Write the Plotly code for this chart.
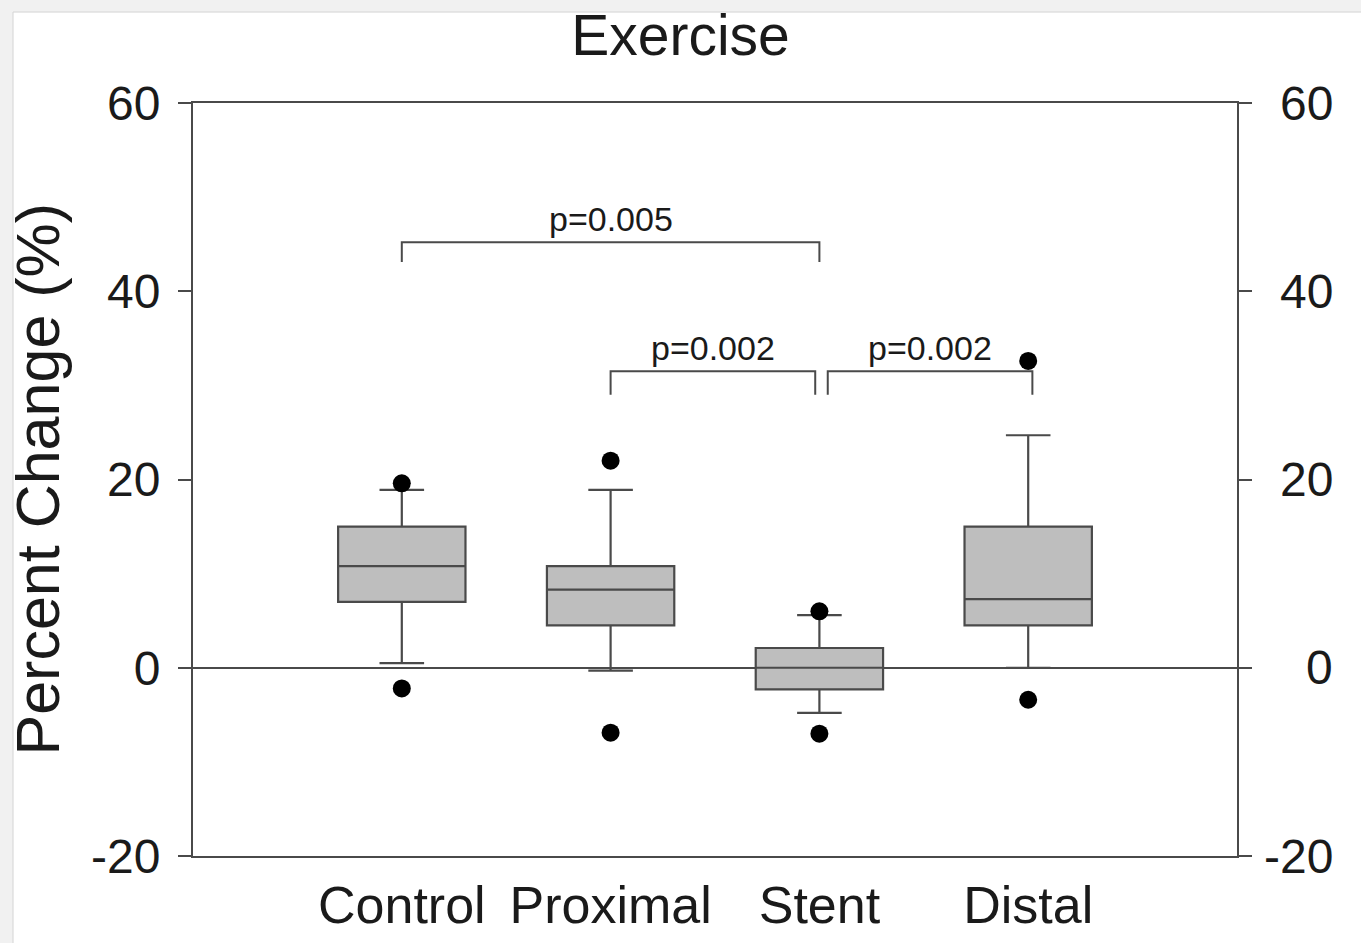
import plotly.graph_objects as go

# ---- data ----
categories = ["Control", "Proximal", "Stent", "Distal"]
positions = [0, 1, 2, 3]
q1 = [7.0, 4.5, -2.3, 4.5]
median = [10.8, 8.3, 0.0, 7.3]
q3 = [15.0, 10.8, 2.1, 15.0]
lower_whisker = [0.5, -0.3, -4.8, 0.0]
upper_whisker = [18.9, 18.9, 5.6, 24.7]
outlier_x = [0, 0, 1, 1, 2, 2, 3, 3]
outlier_y = [19.6, -2.2, 22.0, -6.9, 6.0, -7.0, 32.6, -3.4]

# comparisons: (left x, right x, bracket level, bracket foot, label)
comparisons = [
    (0.0, 2.0, 45.2, 43.1, "p=0.005"),
    (1.0, 1.98, 31.5, 29.0, "p=0.002"),
    (2.04, 3.02, 31.5, 29.0, "p=0.002"),
]
y_ticks = [-20, 0, 20, 40, 60]
y_tick_labels = ["-20", "0", "20", "40", "60"]

FONT = "Liberation Sans, Arial, Helvetica, sans-serif"
TXT = "#1a1a1a"
LINE = "#4a4a4a"

fig = go.Figure()

fig.add_trace(go.Box(
    x=positions, q1=q1, median=median, q3=q3,
    lowerfence=lower_whisker, upperfence=upper_whisker,
    width=0.61, whiskerwidth=0.35, boxpoints=False,
    fillcolor="#bebebe", line=dict(color=LINE, width=2.2),
    showlegend=False, hoverinfo="skip",
))

fig.add_trace(go.Scatter(
    x=outlier_x, y=outlier_y, mode="markers",
    marker=dict(color="black", size=18, line=dict(width=0)),
    showlegend=False, hoverinfo="skip",
))

# invisible trace for the right axis
fig.add_trace(go.Scatter(x=[None], y=[None], yaxis="y2", showlegend=False,
                         hoverinfo="skip", mode="markers"))

shapes = [dict(type="rect", xref="paper", yref="paper",
               x0=-0.1724, x1=1.13, y0=-0.13, y1=1.1208,
               fillcolor="white", line=dict(color="#d4d4d4", width=1),
               layer="below")]
annotations = []
for (xa, xb, lvl, foot, label) in comparisons:
    shapes.append(dict(type="path", xref="x", yref="y",
                       path=f"M {xa},{foot} L {xa},{lvl} L {xb},{lvl} L {xb},{foot}",
                       line=dict(color=LINE, width=2), layer="above"))
    annotations.append(dict(x=(xa + xb) / 2, y=lvl, xref="x", yref="y",
                            text=label, showarrow=False, yanchor="middle",
                            yshift=23, font=dict(size=34, color=TXT, family=FONT)))

# right-hand tick labels (right-aligned as in the original)
for v, t in zip(y_ticks, y_tick_labels):
    annotations.append(dict(x=1.0939, y=v, xref="paper", yref="y", text=t,
                            showarrow=False, xanchor="right", yanchor="middle",
                            font=dict(size=48, color=TXT, family=FONT)))

annotations.append(dict(x=-0.1494, y=0.5, xref="paper", yref="paper",
                        text="Percent Change (%)", textangle=-90, showarrow=False,
                        xanchor="center", yanchor="middle",
                        font=dict(size=61, color=TXT, family=FONT)))

fig.update_layout(
    width=1361, height=943,
    margin=dict(l=193, r=124, t=103, b=87, autoexpand=False),
    paper_bgcolor="#f1f1f1", plot_bgcolor="white",
    font=dict(family=FONT, color=TXT),
    title=dict(text="Exercise", x=0.5, xref="container", xanchor="center",
               y=1 - 35 / 943, yref="container", yanchor="middle",
               font=dict(size=57, color=TXT, family=FONT)),
    xaxis=dict(range=[-1, 4], tickvals=positions, ticktext=categories,
               showline=True, mirror=True, linecolor=LINE, linewidth=2,
               ticks="", showgrid=False, zeroline=False,
               tickfont=dict(size=52, color=TXT), ticklabelstandoff=3),
    yaxis=dict(range=[-20, 60], tickvals=y_ticks, ticktext=y_tick_labels,
               showline=True, mirror=True,
               linecolor=LINE, linewidth=2, ticks="outside", ticklen=13,
               tickwidth=2, tickcolor=LINE, showgrid=False,
               zeroline=True, zerolinecolor=LINE, zerolinewidth=2,
               tickfont=dict(size=48, color=TXT), ticklabelstandoff=8),
    yaxis2=dict(range=[-20, 60], tickvals=y_ticks,
                overlaying="y", side="right",
                showline=True, linecolor=LINE, linewidth=2, ticks="outside",
                ticklen=13, tickwidth=2, tickcolor=LINE, showgrid=False,
                zeroline=False, showticklabels=False),
    shapes=shapes, annotations=annotations,
)

fig.write_html("out.html", config={"displayModeBar": False},
               post_script="document.body.style.margin='0';document.body.style.overflow='hidden';")
